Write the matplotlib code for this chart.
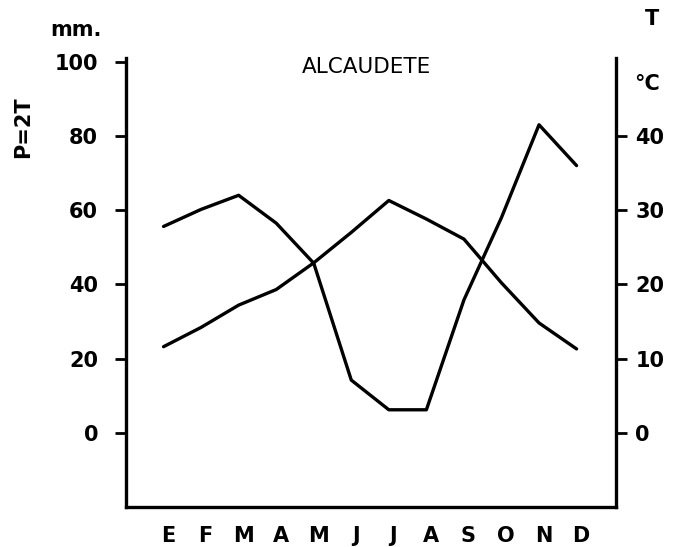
import matplotlib.pyplot as plt

months = ["E", "F", "M", "A", "M", "J", "J", "A", "S", "O", "N", "D"]
precip = [55.6, 60.2, 64, 56.5, 45.7, 14.2, 6.2, 6.2, 35.8, 58, 83, 72]
temp = [11.6, 14.2, 17.2, 19.3, 22.9, 27, 31.3, 28.8, 26.1, 20.2, 14.8, 11.3]
p_ticks = [0, 20, 40, 60, 80, 100]
t_ticks = [0, 10, 20, 30, 40]

fig = plt.figure(figsize=(6.77, 5.47), dpi=100)
ax = fig.add_axes([0.1861, 0.0731, 0.7238, 0.8209])
ax2 = ax.twinx()

x = list(range(len(months)))
ax.plot(x, precip, color="black", linewidth=2.4, solid_capstyle="round", solid_joinstyle="round")
ax2.plot(x, temp, color="black", linewidth=2.4, solid_capstyle="round", solid_joinstyle="round")

ax.set_xlim(-1.0, 12.05)
ax.set_ylim(-20, 101)
ax2.set_ylim(-10, 50.5)

for a in (ax, ax2):
    a.spines["top"].set_visible(False)
    for s in a.spines.values():
        s.set_linewidth(2.4)
ax.spines["right"].set_visible(False)
ax2.spines["left"].set_visible(False)
ax2.spines["bottom"].set_visible(False)

ax.set_yticks(p_ticks)
ax.set_yticklabels([str(v) for v in p_ticks], fontweight="bold")
ax.tick_params(axis="y", direction="out", length=8, width=2, pad=12, labelsize=15)
ax2.set_yticks(t_ticks)
ax2.set_yticklabels([str(v) for v in t_ticks], fontweight="bold")
ax2.tick_params(axis="y", direction="out", length=8, width=2, pad=6, labelsize=15)

ax.set_xticks([i + 0.12 for i in x])
ax.set_xticklabels(months, fontsize=15, fontweight="bold")
ax.tick_params(axis="x", length=0, pad=14)

fig.text(0.074, 0.945, "mm.", fontsize=15, fontweight="bold", ha="left", va="center")
fig.text(0.963, 0.965, "T", fontsize=15, fontweight="bold", ha="center", va="center")
fig.text(0.936, 0.846, "°C", fontsize=15, fontweight="bold", ha="left", va="center")
fig.text(0.541, 0.877, "ALCAUDETE", fontsize=15.5, ha="center", va="center")
fig.text(0.034, 0.768, "P=2T", fontsize=15, fontweight="bold", rotation=90, ha="center", va="center")

fig.savefig("out.png", dpi=100)
